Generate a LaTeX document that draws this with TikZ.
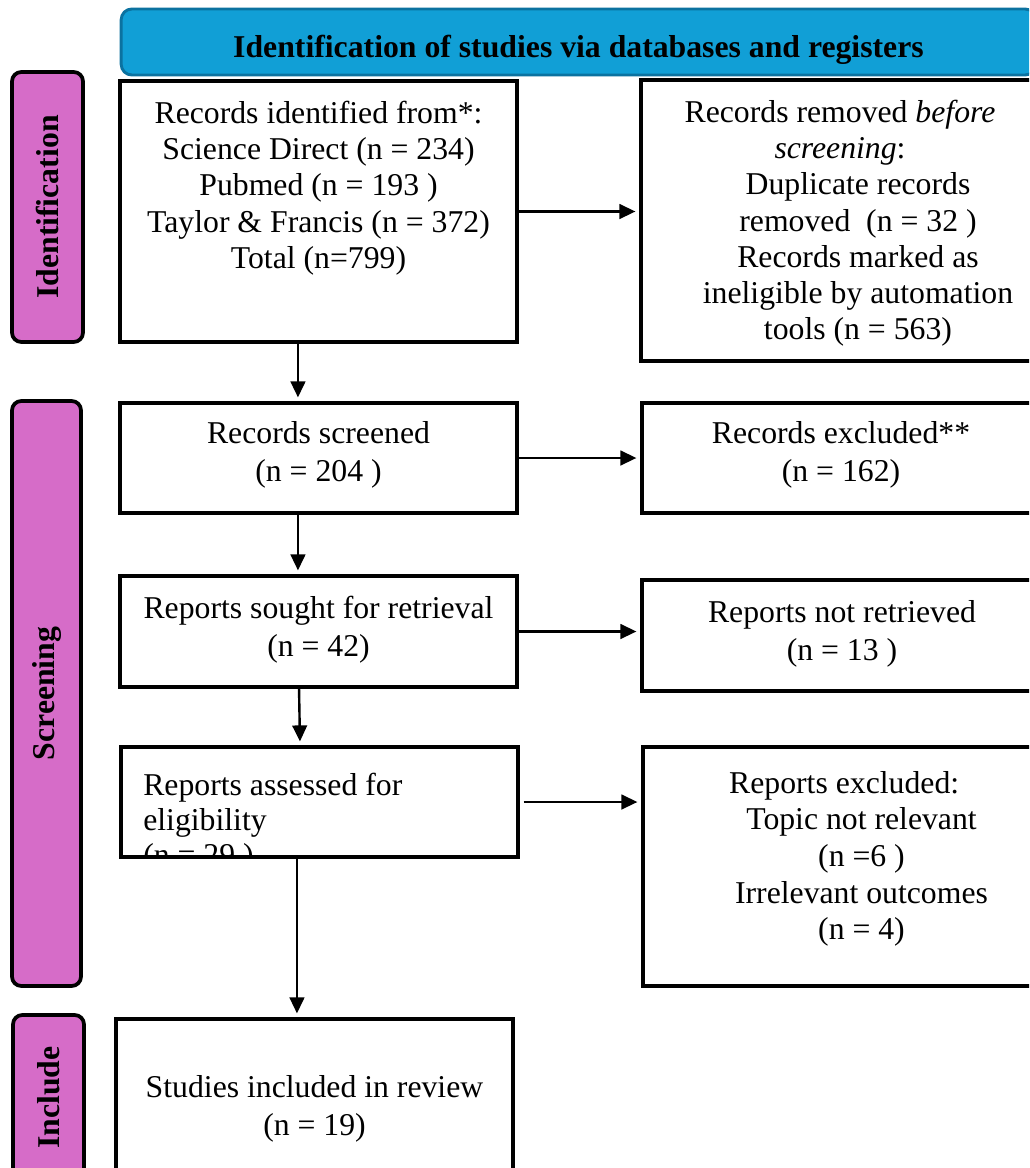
\documentclass[tikz,border=0pt]{standalone}
\usepackage{fontspec}
\setmainfont{Liberation Serif}
\usetikzlibrary{arrows.meta,fit}
\definecolor{hdrfill}{HTML}{119FD6}
\definecolor{hdrline}{HTML}{0B72A0}
\definecolor{labpink}{HTML}{D66CC8}
\begin{document}
\begin{tikzpicture}[x=0.75pt,y=-0.75pt,
  box/.style={draw=black, line width=2.4pt, inner sep=0pt},
  txt/.style={font=\fontsize{23.8pt}{27.2pt}\selectfont, align=center, inner sep=0pt, anchor=north},
  txttwo/.style={txt, font=\fontsize{23.8pt}{28.5pt}\selectfont},
  sidelab/.style={draw=black, line width=2.8pt, fill=labpink, rounded corners=7pt, rotate=90,
    inner sep=0pt, font=\fontsize{23.8pt}{27.2pt}\selectfont\bfseries},
  arr/.style={line width=1.8pt, -{Triangle[length=12pt,width=11pt]}, shorten >=3pt}]
\useasboundingbox (0,0) rectangle (1029,1168);
\clip (0,0) rectangle (1029,1168);

% header
\node[draw=hdrline, line width=2.2pt, fill=hdrfill, rounded corners=8pt,
  minimum width=686pt, minimum height=49.5pt, inner sep=0pt,
  text height=22.5pt, text depth=0pt,
  font=\fontsize{23.8pt}{27.2pt}\selectfont\bfseries] (hdr) at (578.5,42)
  {Identification of studies via databases and registers};

% side labels
\node[sidelab, minimum width=202.5pt, minimum height=53.25pt] (lid) at (47.5,207) {Identification};
\node[sidelab, minimum width=438.75pt, minimum height=51.75pt] (lscr) at (46.5,693.5) {Screening};
\node[sidelab, minimum width=123.75pt, minimum height=53.25pt] (linc) at (48.5,1097.5) {Include};

% boxes
\node[box, fit={(120,81) (517,342)}] (b1) {};
\node[box, fit={(641,80) (1040,361)}] (b2) {};
\node[box, fit={(120,403) (517,513)}] (b3) {};
\node[box, fit={(642,403) (1040,513)}] (b4) {};
\node[box, fit={(120,576) (517,687)}] (b5) {};
\node[box, fit={(642,580) (1040,691)}] (b6) {};
\node[box, fit={(121,747) (518,857)}] (b7) {};
\node[box, fit={(643,747) (1040,986)}] (b8) {};
\node[box, fit={(116,1019) (513,1180)}] (b9) {};

% texts
\node[txt] (t1) at (318.5,97.6) {\strut Records identified from*:\\ Science Direct (n = 234)\\ Pubmed (n = 193 )\\ Taylor \& Francis (n = 372)\\ Total (n=799)};
\node[txt] (t2) at (858,96.6) {\strut Records removed \textit{before}\rule{27pt}{0pt}\\ \textit{screening}:\rule{27pt}{0pt}\\ Duplicate records\\ removed\ \ (n = 32 )\\ Records marked as\\ ineligible by automation\\ tools (n = 563)};
\node[txttwo] (t3) at (318.5,416.4) {\strut Records screened\\ (n = 204 )};
\node[txttwo] (t4) at (841,416.4) {\strut Records excluded**\\ (n = 162)};
\node[txttwo] (t5) at (318.5,591.4) {\strut Reports sought for retrieval\\ (n = 42)};
\node[txttwo] (t6) at (842,595.4) {\strut Reports not retrieved\\ (n = 13 )};
\begin{scope}
  \clip ([shift={(1.2pt,1.2pt)}]b7.south west) rectangle ([shift={(-1.2pt,-1.2pt)}]b7.north east);
  \node[txt, font=\fontsize{23.8pt}{26.25pt}\selectfont, align=left, anchor=north west] (t7) at (143,770.5)
    {\strut Reports assessed for\\ eligibility\\ (n = 29 )};
\end{scope}
\node[txt, font=\fontsize{23.8pt}{27.5pt}\selectfont] (t8) at (861.5,767.3) {\strut Reports excluded:\rule{26pt}{0pt}\\ Topic not relevant\\ (n =6 )\\ Irrelevant outcomes\\ (n = 4)};
\node[txttwo] (t9) at (314.5,1070.4) {\strut Studies included in review\\ (n = 19)};

% connectors
\draw[arr] (b1.east) -- (b1.east -| b2.west);
\draw[arr] (b3.east) -- (b3.east -| b4.west);
\draw[arr] (b5.east) -- (b5.east -| b6.west);
\draw[arr, shorten <=3pt] (b7.east) -- (b7.east -| b8.west);
\draw[arr] ([xshift=-15.4pt]b1.south) -- ([xshift=-15.4pt]b3.north);
\draw[arr] ([xshift=-15.4pt]b3.south) -- ([xshift=-15.4pt]b5.north);
\draw[arr] ([xshift=-14.6pt]b5.south) -- ([xshift=-14.6pt]b7.north);
\coordinate (a8s) at ([xshift=-16.9pt]b7.south);
\draw[arr] (a8s) -- (a8s |- b9.north);
\end{tikzpicture}
\end{document}
